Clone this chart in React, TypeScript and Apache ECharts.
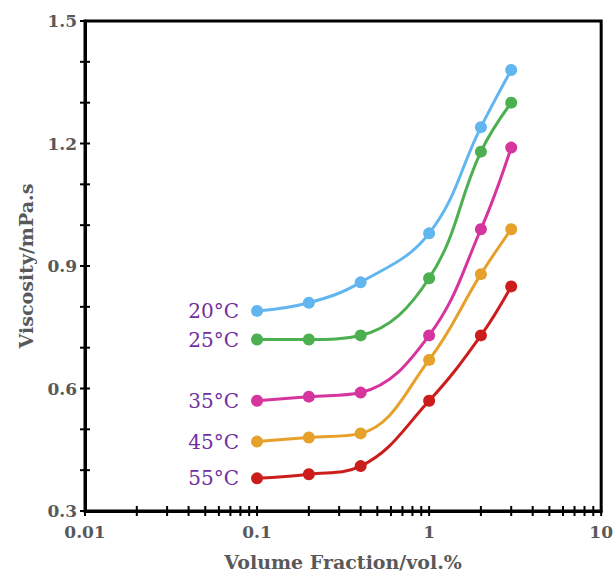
import React, { useEffect, useRef } from "react";
import * as echarts from "echarts";

const fractions = [0.1, 0.2, 0.4, 1, 2, 3];
const seriesNames = ["20°C", "25°C", "35°C", "45°C", "55°C"];
const v20 = [0.79, 0.81, 0.86, 0.98, 1.24, 1.38];
const v25 = [0.72, 0.72, 0.73, 0.87, 1.18, 1.3];
const v35 = [0.57, 0.58, 0.59, 0.73, 0.99, 1.19];
const v45 = [0.47, 0.48, 0.49, 0.67, 0.88, 0.99];
const v55 = [0.38, 0.39, 0.41, 0.57, 0.73, 0.85];
const colors = ["#62B6F0", "#4CAF50", "#D6359E", "#E5A129", "#CC1D1D"];
const xTicks = [
  0.01, 0.02, 0.03, 0.04, 0.05, 0.06, 0.07, 0.08, 0.09,
  0.1, 0.2, 0.3, 0.4, 0.5, 0.6, 0.7, 0.8, 0.9,
  1, 2, 3, 4, 5, 6, 7, 8, 9, 10,
];
const yTicks = [0.3, 0.4, 0.5, 0.6, 0.7, 0.8, 0.9, 1.0, 1.1, 1.2, 1.3, 1.4, 1.5];

export default function App() {
  const ref = useRef<HTMLDivElement>(null);
  useEffect(() => {
    if (!ref.current) return;
    const chart = echarts.init(ref.current, undefined, { renderer: "svg" });
    const allValues = [v20, v25, v35, v45, v55];
    const labelFont = "DejaVu Serif";
    const lineSeries = allValues.map((vals, i) => ({
      type: "line",
      name: seriesNames[i],
      data: fractions.map((f, j) =>
        j === 0
          ? {
              value: [f, vals[j]],
              label: {
                show: true,
                position: "left",
                distance: 12,
                formatter: seriesNames[i],
                color: "#7030A0",
                fontFamily: labelFont,
                fontSize: 20,
              },
            }
          : [f, vals[j]]
      ),
      smooth: 0.4,
      symbol: "circle",
      symbolSize: 12,
      lineStyle: { width: 3, color: colors[i] },
      itemStyle: { color: colors[i] },
      z: 3,
    }));
    const tickStyle = { stroke: "#000", lineWidth: 2 };
    const option: any = {
      animation: false,
      grid: {
        left: 85,
        right: 14,
        top: 21,
        bottom: 63,
        show: true,
        borderColor: "#000",
        borderWidth: 3,
      },
      xAxis: {
        type: "log",
        logBase: 10,
        min: 0.01,
        max: 10,
        axisLine: { lineStyle: { color: "#000", width: 3 } },
        axisTick: { show: false },
        splitLine: { show: false },
        axisLabel: {
          color: "#595959",
          fontFamily: labelFont,
          fontWeight: "bold",
          fontSize: 17,
          margin: 12,
          formatter: (v: number) => String(v),
        },
        name: "Volume Fraction/vol.%",
        nameLocation: "middle",
        nameGap: 41,
        nameTextStyle: {
          color: "#595959",
          fontFamily: labelFont,
          fontWeight: "bold",
          fontSize: 19,
        },
      },
      yAxis: {
        type: "value",
        min: 0.3,
        max: 1.5,
        interval: 0.3,
        axisLine: { lineStyle: { color: "#000", width: 3 } },
        axisTick: { show: false },
        splitLine: { show: false },
        axisLabel: {
          color: "#595959",
          fontFamily: labelFont,
          fontWeight: "bold",
          fontSize: 17,
          margin: 8,
          formatter: (v: number) => v.toFixed(1),
        },
        name: "Viscosity/mPa.s",
        nameLocation: "middle",
        nameGap: 50,
        nameTextStyle: {
          color: "#595959",
          fontFamily: labelFont,
          fontWeight: "bold",
          fontSize: 19,
        },
      },
      series: [
        ...lineSeries,
        {
          type: "custom",
          clip: false,
          silent: true,
          z: 5,
          data: xTicks.map((t) => [t, 0.3]),
          renderItem: (_p: any, api: any) => {
            const p = api.coord([api.value(0), api.value(1)]);
            return {
              type: "line",
              shape: { x1: p[0], y1: p[1] - 5, x2: p[0], y2: p[1] + 5 },
              style: tickStyle,
            };
          },
        },
        {
          type: "custom",
          clip: false,
          silent: true,
          z: 5,
          data: yTicks.map((t) => [0.01, t]),
          renderItem: (_p: any, api: any) => {
            const p = api.coord([api.value(0), api.value(1)]);
            return {
              type: "line",
              shape: { x1: p[0] - 5, y1: p[1], x2: p[0] + 5, y2: p[1] },
              style: tickStyle,
            };
          },
        },
      ],
    };
    chart.setOption(option);
    return () => chart.dispose();
  }, []);
  return (
    <div
      ref={ref}
      style={{ position: "absolute", left: 0, top: 0, width: 616, height: 576, background: "#fff" }}
    />
  );
}
